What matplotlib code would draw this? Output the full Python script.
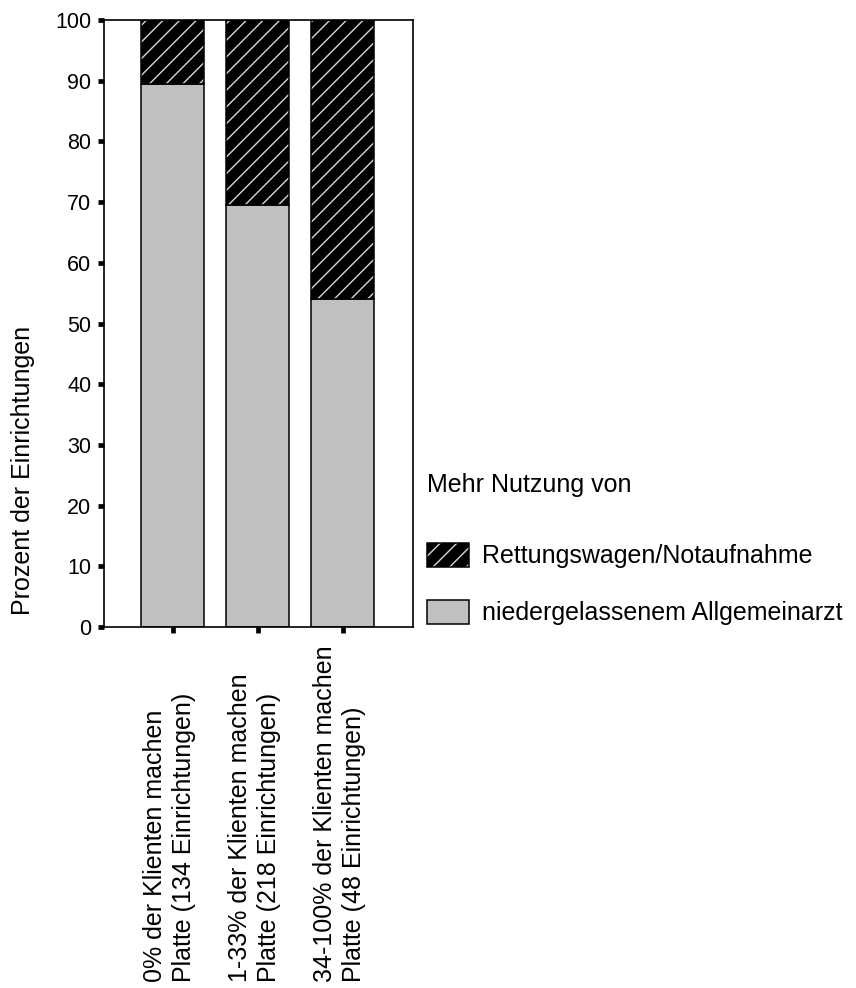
import matplotlib
matplotlib.use("Agg")
import matplotlib.pyplot as plt
from matplotlib.patches import Patch
from matplotlib.legend_handler import HandlerTuple
import numpy as np

categories = [
    "0% der Klienten machen\nPlatte (134 Einrichtungen)",
    "1-33% der Klienten machen\nPlatte (218 Einrichtungen)",
    "34-100% der Klienten machen\nPlatte (48 Einrichtungen)",
]
allgemeinarzt = [89.4, 69.5, 54.0]
rettung = [10.6, 30.5, 46.0]
series_labels = ["Rettungswagen/Notaufnahme", "niedergelassenem Allgemeinarzt"]
legend_title = "Mehr Nutzung von"
y_label = "Prozent der Einrichtungen"
y_ticks = list(range(0, 101, 10))

plt.rcParams["font.family"] = ["Liberation Sans", "DejaVu Sans"]
plt.rcParams["hatch.linewidth"] = 1.0

W, H = 856, 988
fig = plt.figure(figsize=(W / 100, H / 100), dpi=100)
ax_l, ax_r, ax_t, ax_b = 104, 413, 20, 627
ax = fig.add_axes([ax_l / W, 1 - ax_b / H, (ax_r - ax_l) / W, (ax_b - ax_t) / H])

x = np.arange(len(categories))
bw = 0.74
gray = "#c0c0c0"

ax.bar(x, allgemeinarzt, width=bw, color=gray, edgecolor="black", linewidth=1.1, zorder=2)
ax.bar(x, rettung, width=bw, bottom=allgemeinarzt, color="black", edgecolor="#d8d8d8",
       hatch="//", linewidth=0, zorder=2)
ax.bar(x, rettung, width=bw, bottom=allgemeinarzt, fill=False, edgecolor="black",
       linewidth=1.1, zorder=3)

ax.set_xlim(-0.81, 2.825)
ax.set_ylim(0, 100)
ax.set_yticks(y_ticks)
ax.set_xticks(x)
ax.set_xticklabels([""] * len(x))
ax.tick_params(axis="both", direction="out", length=4, width=3.4, color="black",
               labelsize=15.5, pad=5)
for s in ax.spines.values():
    s.set_linewidth(1.2)
    s.set_color("black")

trans = ax.get_xaxis_transform()
for xi, lab in zip(x, categories):
    ax.text(xi - 0.04, -(982 - ax_b) / (ax_b - ax_t), lab, transform=trans, rotation=90,
            ha="center", va="bottom", multialignment="left", fontsize=18,
            linespacing=1.25)

ax.set_ylabel(y_label, fontsize=18, ha="left")
ax.yaxis.set_label_coords(-0.222, 0.02)

h1 = Patch(facecolor="black", edgecolor="#d8d8d8", hatch="//", linewidth=0)
h1b = Patch(fill=False, edgecolor="black", linewidth=1.1)
h2 = Patch(facecolor=gray, edgecolor="black", linewidth=1.1)
leg = fig.legend(handles=[(h1, h1b), h2], labels=series_labels, title=legend_title,
                 handler_map={tuple: HandlerTuple(ndivide=1)},
                 loc="upper left", bbox_to_anchor=(427 / W, 1 - 473 / H),
                 frameon=False, fontsize=18, title_fontsize=18,
                 handlelength=1.68, handleheight=1.12, labelspacing=1.25,
                 handletextpad=0.5, borderpad=0, borderaxespad=0, alignment="left")
leg._legend_box.sep = 33

fig.savefig("out.png", dpi=100)
